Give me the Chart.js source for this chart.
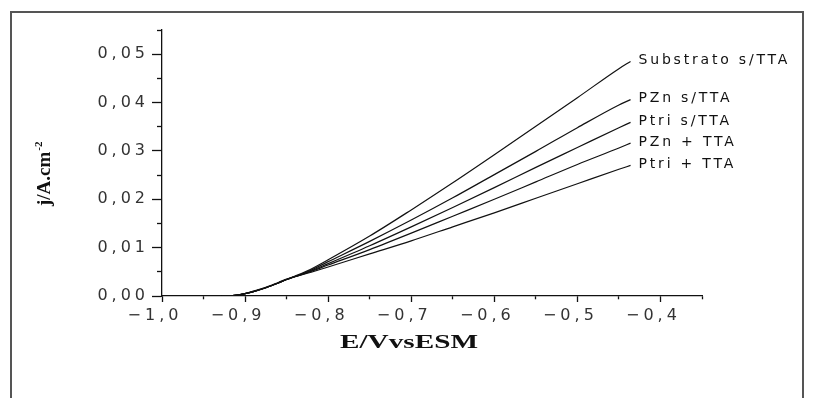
<!DOCTYPE html>
<html>
<head>
<meta charset="utf-8">
<script src="https://cdn.jsdelivr.net/npm/chart.js@4.4.1/dist/chart.umd.min.js"></script>
<style>
  html, body { margin: 0; padding: 0; background: #fff; }
  #wrap { width: 813px; height: 398px; }
</style>
</head>
<body>
<div id="wrap"><canvas id="chart" width="813" height="398"></canvas></div>
<script>
const potentials = [-0.928, -0.91, -0.9, -0.89, -0.875, -0.86, -0.85, -0.825, -0.8, -0.75, -0.7, -0.65, -0.6, -0.55, -0.5, -0.45, -0.436];

// Current density j (A.cm-2) for each condition
const substratoSemTTA = [0, 0.0002, 0.0005, 0.0009, 0.0017, 0.0027, 0.0034, 0.0052, 0.0075, 0.0124, 0.0178, 0.0234, 0.0292, 0.0351, 0.041, 0.047, 0.0485];
const pznSemTTA       = [0, 0.0002, 0.0005, 0.0009, 0.0017, 0.0027, 0.0034, 0.005, 0.0071, 0.0113, 0.0157, 0.0203, 0.0251, 0.0299, 0.0348, 0.0395, 0.0406];
const ptriSemTTA      = [0, 0.0002, 0.0005, 0.0009, 0.0017, 0.0027, 0.0034, 0.0049, 0.0067, 0.0104, 0.0143, 0.0183, 0.0224, 0.0266, 0.0307, 0.0348, 0.0359];
const pznComTTA       = [0, 0.0002, 0.0005, 0.0009, 0.0017, 0.0027, 0.0034, 0.0048, 0.0064, 0.0096, 0.013, 0.0165, 0.02, 0.0236, 0.0272, 0.0306, 0.0316];
const ptriComTTA      = [0, 0.0002, 0.0005, 0.001, 0.0018, 0.0028, 0.0035, 0.0047, 0.006, 0.0087, 0.0114, 0.0143, 0.0172, 0.0202, 0.0232, 0.0262, 0.027];

const seriesNames = ['Substrato s/TTA', 'PZn s/TTA', 'Ptri s/TTA', 'PZn + TTA', 'Ptri + TTA'];
const seriesValues = [substratoSemTTA, pznSemTTA, ptriSemTTA, pznComTTA, ptriComTTA];

// Major tick labels (minor ticks in between carry no label)
const xTickLabels = ['\u22121,0', '\u22120,9', '\u22120,8', '\u22120,7', '\u22120,6', '\u22120,5', '\u22120,4'];
const yTickLabels = ['0,00', '0,01', '0,02', '0,03', '0,04', '0,05'];

const xTitle = 'E/VvsESM';
const yTitle = 'j/A.cm';
const yTitleSup = '-2';

const ink = '#111';
const tickFont = { family: '"DejaVu Sans", Verdana, sans-serif', size: 16 };

// frame, axis titles and curve labels drawn straight on the canvas
const decorations = {
    id: 'decorations',
    beforeDraw(chart) {
        const ctx = chart.ctx;
        ctx.save();
        ctx.fillStyle = '#fff';
        ctx.fillRect(0, 0, chart.width, chart.height);
        ctx.strokeStyle = '#555';
        ctx.lineWidth = 2;
        ctx.strokeRect(11, 12, 792, 420);
        ctx.restore();
        // wide spacing of the tick numbers
        ctx.letterSpacing = '4px';
    },
    afterDraw(chart) {
        const ctx = chart.ctx;
        ctx.letterSpacing = '0px';
        ctx.save();
        ctx.fillStyle = ink;

        // x title, horizontally stretched bold serif
        ctx.font = 'bold 18px "Liberation Serif", "Times New Roman", serif';
        const w = ctx.measureText(xTitle).width;
        ctx.save();
        ctx.translate(409, 348);
        ctx.scale(138 / w, 1);
        ctx.textAlign = 'center';
        ctx.textBaseline = 'alphabetic';
        ctx.fillText(xTitle, 0, 0);
        ctx.restore();

        // y title with superscript, rotated
        ctx.save();
        ctx.translate(50, 206);
        ctx.rotate(-Math.PI / 2);
        ctx.textAlign = 'left';
        ctx.textBaseline = 'alphabetic';
        ctx.font = 'bold 19px "Liberation Serif", "Times New Roman", serif';
        ctx.fillText(yTitle, 0, 0);
        const tw = ctx.measureText(yTitle).width;
        ctx.font = 'bold 11px "Liberation Serif", "Times New Roman", serif';
        ctx.fillText(yTitleSup, tw + 1, -8);
        ctx.restore();

        // labels at the end of each curve
        ctx.font = '14px "DejaVu Sans", Verdana, sans-serif';
        ctx.letterSpacing = '2.8px';
        ctx.textAlign = 'left';
        ctx.textBaseline = 'middle';
        chart.data.datasets.forEach((ds, i) => {
            const pts = chart.getDatasetMeta(i).data;
            const last = pts[pts.length - 1];
            ctx.fillText(ds.label, last.x + 8, last.y - 1);
        });
        ctx.restore();
        ctx.letterSpacing = '0px';
    }
};

const datasets = seriesNames.map((name, i) => ({
    label: name,
    data: potentials.map((x, k) => ({ x: x, y: seriesValues[i][k] })),
    borderColor: ink,
    borderWidth: 1.2,
    pointRadius: 0,
    fill: false,
    cubicInterpolationMode: 'monotone'
}));

new Chart(document.getElementById('chart'), {
    type: 'line',
    data: { datasets: datasets },
    options: {
        responsive: false,
        animation: false,
        layout: { padding: { top: 30, right: 111, left: 0, bottom: 0 } },
        plugins: {
            legend: { display: false },
            tooltip: { enabled: false }
        },
        scales: {
            x: {
                type: 'linear',
                min: -1.0,
                max: -0.35,
                position: 'bottom',
                border: { display: true, color: ink, width: 1.3 },
                grid: {
                    drawOnChartArea: false,
                    drawTicks: true,
                    tickLength: 6,
                    tickColor: ink,
                    tickWidth: 1.3,
                    tickBorderDash: (c) => (c.index % 2 ? [3, 20] : [])
                },
                ticks: {
                    stepSize: 0.05,
                    autoSkip: false,
                    maxRotation: 0,
                    padding: 4,
                    labelOffset: -7,
                    color: '#333',
                    font: tickFont,
                    callback: (v, i) => (i % 2 ? '' : xTickLabels[i / 2])
                },
                afterFit: (s) => { s.height = 102; }
            },
            y: {
                type: 'linear',
                min: 0,
                max: 0.055,
                position: 'left',
                border: { display: true, color: ink, width: 1.3 },
                grid: {
                    drawOnChartArea: false,
                    drawTicks: true,
                    tickLength: 10,
                    tickColor: ink,
                    tickWidth: 1.3,
                    // minor ticks: skip the outer 5 px so the mark touches the axis
                    tickBorderDash: (c) => (c.index % 2 ? [5, 100] : []),
                    tickBorderDashOffset: (c) => (c.index % 2 ? 100 : 0)
                },
                ticks: {
                    stepSize: 0.005,
                    autoSkip: false,
                    padding: 3,
                    color: '#333',
                    font: tickFont,
                    callback: (v, i) => (i % 2 ? '' : yTickLabels[i / 2])
                },
                afterFit: (s) => { s.width = 162; }
            }
        }
    },
    plugins: [decorations]
});
</script>
</body>
</html>
